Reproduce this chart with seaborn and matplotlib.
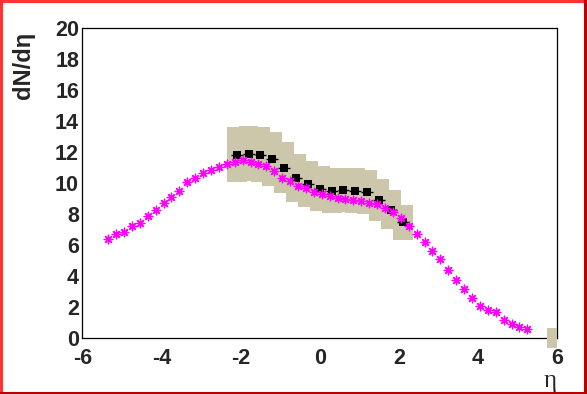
import numpy as np
import matplotlib
matplotlib.use("Agg")
import matplotlib.pyplot as plt
from matplotlib.patches import Rectangle
from matplotlib.lines import Line2D
from matplotlib.ticker import MultipleLocator
import seaborn as sns

# Data
# model curve (magenta asterisks)
model_eta = [-5.35, -5.15, -4.95, -4.75, -4.55, -4.35, -4.15, -3.95, -3.75, -3.55,
             -3.35, -3.15, -2.95, -2.75, -2.55, -2.35, -2.15, -1.95, -1.75, -1.55,
             -1.35, -1.15, -0.95, -0.75, -0.55, -0.35, -0.15, 0.05, 0.25, 0.45,
             0.65, 0.85, 1.05, 1.25, 1.45, 1.65, 1.85, 2.05, 2.25, 2.45,
             2.65, 2.85, 3.05, 3.25, 3.45, 3.65, 3.85, 4.05, 4.25, 4.45,
             4.65, 4.85, 5.05, 5.25]
model_dndeta = [6.39, 6.69, 6.84, 7.20, 7.41, 7.85, 8.23, 8.70, 9.09, 9.47,
                10.05, 10.31, 10.63, 10.82, 11.04, 11.23, 11.32, 11.45, 11.36, 11.25,
                11.08, 10.76, 10.33, 10.10, 9.81, 9.65, 9.43, 9.26, 9.13, 9.02,
                8.94, 8.89, 8.85, 8.72, 8.62, 8.40, 8.10, 7.72, 7.22, 6.71,
                6.17, 5.59, 5.08, 4.37, 3.75, 3.19, 2.59, 2.06, 1.80, 1.67,
                1.16, 0.90, 0.73, 0.60]

# measured points (black squares) with systematic errors (boxes)
data_eta = [-2.1, -1.8, -1.5, -1.2, -0.9, -0.6, -0.3, 0.0, 0.3, 0.6, 0.9, 1.2, 1.5, 1.8, 2.1]
data_dndeta = [11.81, 11.88, 11.81, 11.53, 10.98, 10.31, 9.95, 9.63, 9.50, 9.56,
               9.50, 9.43, 8.92, 8.28, 7.46]
data_sys = [1.77, 1.78, 1.77, 1.73, 1.65, 1.55, 1.49, 1.44, 1.43, 1.43,
            1.43, 1.41, 1.34, 1.24, 1.12]
data_xerr = 0.15
box_half = 0.25

# stray box at the right edge of the frame
edge_box_eta = 5.875
edge_box_val = 0.03
edge_box_err = 0.63

sns.set_style("white")
plt.rcParams["font.family"] = ["Liberation Sans", "DejaVu Sans"]
plt.rcParams["axes.unicode_minus"] = False

fig = plt.figure(figsize=(5.87, 3.94), dpi=100)
ax = fig.add_axes([0.1405, 0.1414, 0.8085, 0.7886])

box_col = "#ccc6aa"
for x, y, e in zip(data_eta, data_dndeta, data_sys):
    ax.add_patch(Rectangle((x - box_half, y - e), 2 * box_half, 2 * e,
                           facecolor=box_col, edgecolor="none", zorder=1))

ax.add_patch(Rectangle((edge_box_eta - 0.125, edge_box_val - edge_box_err), 0.25,
                       2 * edge_box_err, facecolor=box_col, edgecolor="none",
                       zorder=10, clip_on=False))

ax.errorbar(data_eta, data_dndeta, xerr=data_xerr, fmt="none",
            ecolor="black", elinewidth=1.0, capsize=0, zorder=2)
sns.scatterplot(x=data_eta, y=data_dndeta, marker="s", s=40, color="black",
                edgecolor="black", linewidth=0, ax=ax, zorder=3)
sns.scatterplot(x=model_eta, y=model_dndeta, marker=(8, 2, 0), s=38,
                color="#ff00ff", edgecolor="#ff00ff", linewidth=0.95, ax=ax, zorder=4)

ax.set_xlim(-6, 6)
ax.set_ylim(0, 20)
ax.xaxis.set_major_locator(MultipleLocator(2))
ax.xaxis.set_minor_locator(MultipleLocator(0.5))
ax.yaxis.set_major_locator(MultipleLocator(2))
ax.yaxis.set_minor_locator(MultipleLocator(0.5))

for s in ax.spines.values():
    s.set_visible(True)
    s.set_color("black")
    s.set_linewidth(0.9)

ax.tick_params(axis="x", which="major", direction="in", length=7, width=0.9,
               labelsize=15.5, pad=7)
ax.tick_params(axis="x", which="minor", direction="in", length=3.8, width=0.9)
ax.tick_params(axis="y", which="major", direction="in", length=10, width=0.9,
               labelsize=15.5, pad=2.5)
ax.tick_params(axis="y", which="minor", direction="in", length=5, width=0.9)
ax.tick_params(top=False, right=False, which="both")
for lab in ax.get_xticklabels() + ax.get_yticklabels():
    lab.set_fontweight("bold")

ax.set_xlabel("")
ax.set_ylabel("")
fig.text(24 / 587, 1 - 32 / 394, "dN/dη", rotation=90, ha="center", va="top",
         fontsize=17, fontweight="bold")
fig.text(557 / 587, 1 - 381 / 394, "η", ha="right", va="center", fontsize=18,
         family=["Liberation Serif", "DejaVu Serif"])

# canvas border
light, dark = "#ff3333", "#bb0000"
fig.add_artist(Line2D([0.0015, 0.0015], [0, 1], color=light, lw=2.2, transform=fig.transFigure))
fig.add_artist(Line2D([0, 1], [0.998, 0.998], color=light, lw=2.2, transform=fig.transFigure))
fig.add_artist(Line2D([0.997, 0.997], [0, 1], color=dark, lw=2.2, transform=fig.transFigure))
fig.add_artist(Line2D([0, 1], [0.003, 0.003], color=dark, lw=2.2, transform=fig.transFigure))

fig.savefig("out.png", dpi=100)
